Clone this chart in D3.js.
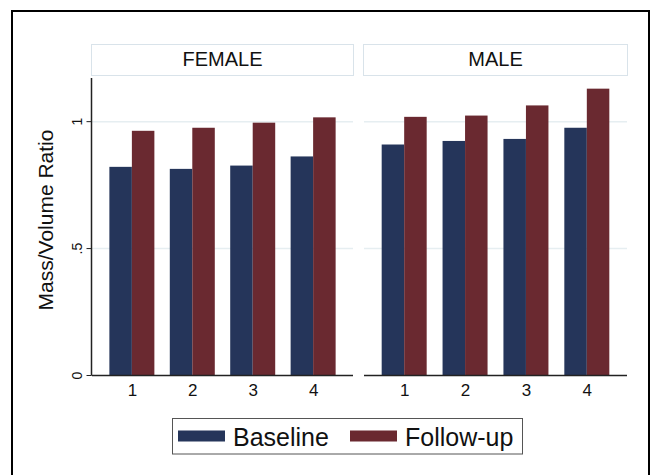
<!DOCTYPE html>
<html>
<head>
<meta charset="utf-8">
<script src="https://cdn.jsdelivr.net/npm/d3@7"></script>
<style>
html,body{margin:0;padding:0;background:#fff;}
svg{display:block;font-family:"Liberation Sans",Arial,sans-serif;}
</style>
</head>
<body>
<svg id="chart" width="654" height="475"></svg>
<script>
const panels = ["FEMALE", "MALE"];
const categories = ["1", "2", "3", "4"];
const seriesNames = ["Baseline", "Follow-up"];
const femaleBaseline = [0.820, 0.812, 0.825, 0.861];
const femaleFollowup = [0.962, 0.974, 0.994, 1.015];
const maleBaseline = [0.908, 0.922, 0.930, 0.974];
const maleFollowup = [1.017, 1.022, 1.062, 1.128];
const yTicks = [0, 0.5, 1];
const yTickLabels = ["0", ".5", "1"];
const colors = ["#25355a", "#6a2930"];

const data = {
  FEMALE: [femaleBaseline, femaleFollowup],
  MALE: [maleBaseline, maleFollowup]
};

const svg = d3.select("#chart");

// outer frame
svg.append("path")
  .attr("d", "M12,480 L12,11 L649,11 L649,480")
  .attr("fill", "none").attr("stroke", "#000").attr("stroke-width", 2);

const y = d3.scaleLinear().domain([0, 1.17]).range([375, 78]);

const panelX = { FEMALE: [92, 353], MALE: [364, 627] };

panels.forEach(p => {
  const [x0, x1] = panelX[p];
  const g = svg.append("g");
  // header box
  g.append("rect").attr("x", x0 - 0.5).attr("y", 44.5).attr("width", x1 - x0 + 1).attr("height", 31)
    .attr("fill", "#fff").attr("stroke", "#d9e3ea").attr("stroke-width", 1);
  g.append("text").attr("x", (x0 + x1) / 2).attr("y", 66).attr("text-anchor", "middle")
    .attr("font-size", 20).attr("fill", "#111").text(p);

  // gridlines
  g.selectAll(".grid").data(yTicks.filter(t => t > 0)).enter().append("line")
    .attr("x1", x0).attr("x2", x1)
    .attr("y1", d => y(d) + 0.5).attr("y2", d => y(d) + 0.5)
    .attr("stroke", "#e6eef1").attr("stroke-width", 1.5);

  const x = d3.scalePoint().domain(categories).range([x0, x1]).padding(0.66);
  const bw = 22.5;
  const vals = data[p];
  seriesNames.forEach((s, si) => {
    g.selectAll(".bar" + si).data(categories).enter().append("rect")
      .attr("x", (d) => x(d) - bw + si * bw)
      .attr("width", bw)
      .attr("y", (d, i) => y(vals[si][i]))
      .attr("height", (d, i) => y(0) - y(vals[si][i]))
      .attr("fill", colors[si]);
  });

  // x axis
  const xAxis = d3.axisBottom(x).tickSize(0).tickPadding(8);
  const ax = g.append("g").attr("transform", "translate(0,375.5)").call(xAxis);
  ax.attr("font-size", 17).attr("font-family", "Liberation Sans, Arial, sans-serif");
  ax.select(".domain").attr("d", `M${x0},0H${x1}`).attr("stroke", "#222").attr("stroke-width", 1.5);
  ax.selectAll("text").style("font-size", "17px").attr("fill", "#111");
});

// y axis (left panel only)
const yAxis = d3.axisLeft(y).tickValues(yTicks).tickFormat((d, i) => yTickLabels[i]).tickSize(5).tickPadding(4);
const yg = svg.append("g").attr("transform", "translate(91.5,0)").call(yAxis);
yg.attr("font-size", 14).attr("font-family", "Liberation Sans, Arial, sans-serif");
yg.select(".domain").attr("d", `M0,${y.range()[1]}V${y(0) + 0.5}`).attr("stroke", "#222").attr("stroke-width", 1.5);
yg.selectAll(".tick line").attr("stroke", "#222").attr("stroke-width", 1);
yg.selectAll("text")
  .style("font-size", "14px").attr("fill", "#111")
  .attr("transform", "rotate(-90)")
  .attr("x", 0).attr("y", -10).attr("dy", 0)
  .attr("text-anchor", "middle");

// y title
svg.append("text").attr("transform", "translate(53,220) rotate(-90)")
  .attr("text-anchor", "middle").attr("font-size", 21).attr("fill", "#111")
  .text("Mass/Volume Ratio");

// legend
const lg = svg.append("g");
lg.append("rect").attr("x", 172.5).attr("y", 418.5).attr("width", 350).attr("height", 35.5)
  .attr("fill", "#fff").attr("stroke", "#555").attr("stroke-width", 1);
const legX = [178, 350];
seriesNames.forEach((s, i) => {
  lg.append("rect").attr("x", legX[i]).attr("y", 430.5).attr("width", 47).attr("height", 11).attr("fill", colors[i]);
  lg.append("text").attr("x", legX[i] + 55).attr("y", 446).attr("font-size", 25).attr("fill", "#111").text(s);
});
</script>
</body>
</html>
